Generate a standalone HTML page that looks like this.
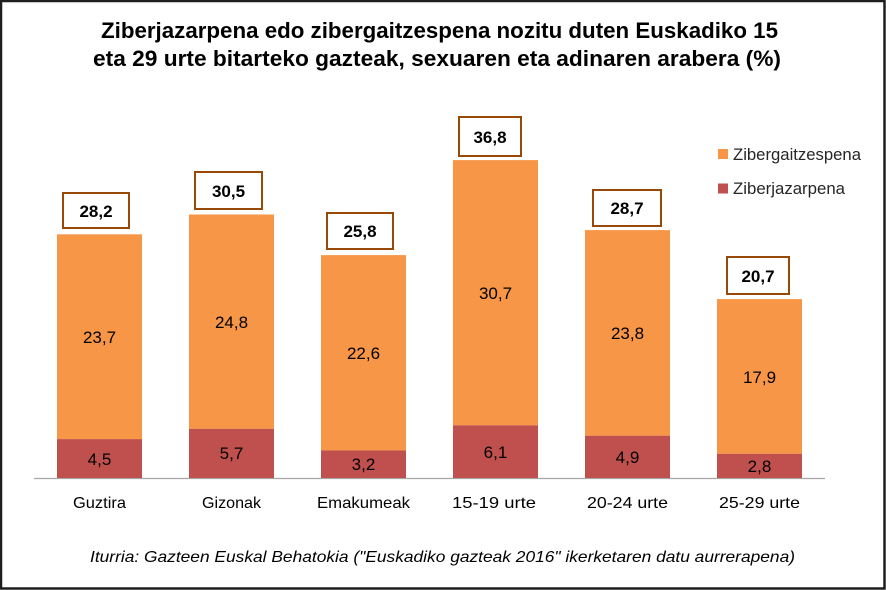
<!DOCTYPE html>
<html>
<head>
<meta charset="utf-8">
<style>
  html, body { margin: 0; padding: 0; background: #ffffff; }
  svg { display: block; }
  text { font-family: "Liberation Sans", Arial, sans-serif; }
</style>
</head>
<body>
<svg width="886" height="590" viewBox="0 0 886 590" xmlns="http://www.w3.org/2000/svg">
  <rect x="0" y="0" width="886" height="590" fill="#ffffff"/>
  <!-- outer border -->
  <rect x="1" y="1" width="883.5" height="587.5" fill="none" stroke="#1f1f1f" stroke-width="2.5"/>

  <!-- title -->
  <text x="101" y="38" font-size="22" font-weight="bold" fill="#000" textLength="677" lengthAdjust="spacingAndGlyphs">Ziberjazarpena edo zibergaitzespena nozitu duten Euskadiko 15</text>
  <text x="93" y="66" font-size="22" font-weight="bold" fill="#000" textLength="688" lengthAdjust="spacingAndGlyphs">eta 29 urte bitarteko gazteak, sexuaren eta adinaren arabera (%)</text>

  <!-- axis line -->
  <line x1="34" y1="478.5" x2="825" y2="478.5" stroke="#a6a6a6" stroke-width="1.3"/>

  <!-- bars: orange (Zibergaitzespena) -->
  <g fill="#F79646">
    <rect x="57" y="234.3" width="85" height="204.8"/>
    <rect x="189" y="214.5" width="85" height="214.3"/>
    <rect x="321" y="255.1" width="85" height="195.3"/>
    <rect x="453" y="160.1" width="85" height="265.2"/>
    <rect x="585" y="230.1" width="85" height="205.6"/>
    <rect x="717" y="299.1" width="85" height="154.7"/>
  </g>
  <!-- bars: red (Ziberjazarpena) -->
  <g fill="#C0504D">
    <rect x="57" y="439.1" width="85" height="38.9"/>
    <rect x="189" y="428.8" width="85" height="49.2"/>
    <rect x="321" y="450.4" width="85" height="27.6"/>
    <rect x="453" y="425.3" width="85" height="52.7"/>
    <rect x="585" y="435.7" width="85" height="42.3"/>
    <rect x="717" y="453.8" width="85" height="24.2"/>
  </g>

  <!-- inner labels -->
  <g font-size="17" fill="#000" text-anchor="middle">
    <text x="99.5" y="343">23,7</text>
    <text x="231.5" y="328">24,8</text>
    <text x="363.5" y="359">22,6</text>
    <text x="495.5" y="299">30,7</text>
    <text x="627.5" y="339">23,8</text>
    <text x="759.5" y="383">17,9</text>

    <text x="99.5" y="465">4,5</text>
    <text x="231.5" y="459">5,7</text>
    <text x="363.5" y="470">3,2</text>
    <text x="495.5" y="458">6,1</text>
    <text x="627.5" y="463">4,9</text>
    <text x="759.5" y="472">2,8</text>
  </g>

  <!-- total boxes -->
  <g fill="#ffffff" stroke="#984807" stroke-width="2">
    <rect x="63" y="193" width="66" height="35"/>
    <rect x="195" y="172" width="67" height="37"/>
    <rect x="327" y="213" width="66" height="36"/>
    <rect x="459" y="117" width="62" height="39"/>
    <rect x="593" y="190" width="68" height="36"/>
    <rect x="727" y="257" width="62" height="37"/>
  </g>
  <g font-size="17" font-weight="bold" fill="#000" text-anchor="middle">
    <text x="96" y="217">28,2</text>
    <text x="228.5" y="197">30,5</text>
    <text x="360" y="237">25,8</text>
    <text x="490" y="143">36,8</text>
    <text x="627" y="214">28,7</text>
    <text x="758" y="282">20,7</text>
  </g>

  <!-- legend -->
  <rect x="718" y="149" width="10" height="10" fill="#F79646"/>
  <rect x="718" y="183.5" width="10" height="10" fill="#C0504D"/>
  <text x="733" y="160" font-size="17" fill="#262626" textLength="128" lengthAdjust="spacingAndGlyphs">Zibergaitzespena</text>
  <text x="733" y="194" font-size="17" fill="#262626" textLength="112" lengthAdjust="spacingAndGlyphs">Ziberjazarpena</text>

  <!-- category labels -->
  <g font-size="16" fill="#000">
    <text x="73" y="508" textLength="53" lengthAdjust="spacingAndGlyphs">Guztira</text>
    <text x="202" y="508" textLength="59" lengthAdjust="spacingAndGlyphs">Gizonak</text>
    <text x="317" y="508" textLength="93" lengthAdjust="spacingAndGlyphs">Emakumeak</text>
    <text x="452" y="508" textLength="84" lengthAdjust="spacingAndGlyphs">15-19 urte</text>
    <text x="587" y="508" textLength="81" lengthAdjust="spacingAndGlyphs">20-24 urte</text>
    <text x="719" y="508" textLength="81" lengthAdjust="spacingAndGlyphs">25-29 urte</text>
  </g>

  <!-- source -->
  <text x="90" y="562" font-size="16" font-style="italic" fill="#000" textLength="705" lengthAdjust="spacingAndGlyphs">Iturria: Gazteen Euskal Behatokia ("Euskadiko gazteak 2016" ikerketaren datu aurrerapena)</text>
</svg>
</body>
</html>
